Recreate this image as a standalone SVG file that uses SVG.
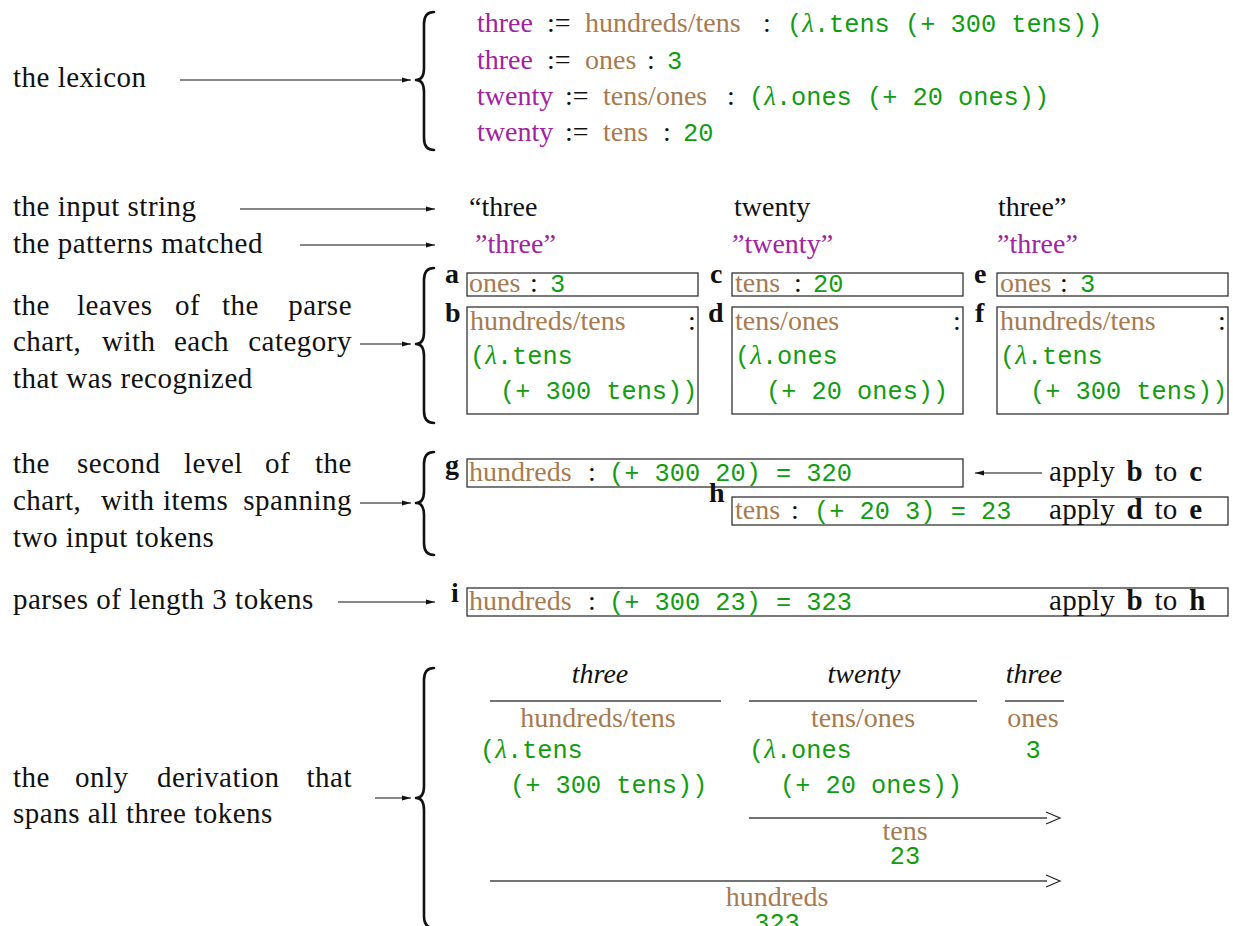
<svg xmlns="http://www.w3.org/2000/svg" width="1233" height="926" viewBox="0 0 1233 926">
<style>
text{font-family:"Liberation Serif","Times New Roman",serif;font-size:28px;fill:#111}
.L{font-size:29px;letter-spacing:0.5px}
.m{font-family:"Liberation Mono","Courier New",monospace;font-size:25.3px;fill:#119c11}
.lam{font-family:"Liberation Serif","Times New Roman",serif;font-style:italic;font-size:27px}
.p{fill:#a2229f}
.c{fill:#a77a4f}
.b{font-weight:bold}
.i{font-style:italic}
.ap{font-size:29px;word-spacing:4px;letter-spacing:0.3px}
.box{fill:none;stroke:#333;stroke-width:1.3}
.br{fill:none;stroke:#111;stroke-width:2.6;stroke-linecap:round;stroke-linejoin:round}
.ln{fill:none;stroke:#111;stroke-width:1.2}
.dl{fill:none;stroke:#444;stroke-width:1.5}
.oh{fill:none;stroke:#222;stroke-width:1.2}
</style>
<defs>
<marker id="ah" markerWidth="10" markerHeight="6" refX="9" refY="3" orient="auto" markerUnits="userSpaceOnUse">
<path d="M0,0.5 L9,3 L0,5.5 z" fill="#111"/>
</marker>
</defs>

<g id="labels">
<text x="13" y="87" class="L">the lexicon</text>
<text x="13" y="216" class="L">the input string</text>
<text x="13" y="253" class="L">the patterns matched</text>
<g id="label-leaves">
<text x="13" y="315" class="L">the</text><text x="77" y="315" class="L">leaves</text><text x="175" y="315" class="L">of</text><text x="222" y="315" class="L">the</text><text x="352" y="315" class="L" text-anchor="end">parse</text>
<text x="13" y="351" class="L">chart,</text><text x="102" y="351" class="L">with</text><text x="174" y="351" class="L">each</text><text x="352" y="351" class="L" text-anchor="end">category</text>
<text x="13" y="388" class="L">that was recognized</text>
</g>
<g id="label-second">
<text x="13" y="473" class="L">the</text><text x="77" y="473" class="L">second</text><text x="184" y="473" class="L">level</text><text x="265" y="473" class="L">of</text><text x="352" y="473" class="L" text-anchor="end">the</text>
<text x="13" y="510" class="L">chart,</text><text x="101" y="510" class="L">with</text><text x="163" y="510" class="L">items</text><text x="352" y="510" class="L" text-anchor="end">spanning</text>
<text x="13" y="547" class="L">two input tokens</text>
</g>
<text x="13" y="609" class="L">parses of length 3 tokens</text>
<g id="label-derivation">
<text x="13" y="787" class="L">the</text><text x="75" y="787" class="L">only</text><text x="157" y="787" class="L">derivation</text><text x="352" y="787" class="L" text-anchor="end">that</text>
<text x="13" y="823" class="L">spans all three tokens</text>
</g>
</g>

<g id="braces">
<path class="br" d="M434,12 Q424,12 424,24 L424,68 Q424,80 416,80 Q424,80 424,92 L424,138 Q424,150 434,150"/>
<path class="br" d="M434,268 Q424,268 424,280 L424,332 Q424,344 416,344 Q424,344 424,356 L424,411 Q424,423 434,423"/>
<path class="br" d="M434,452 Q424,452 424,464 L424,491 Q424,503 416,503 Q424,503 424,515 L424,543 Q424,555 434,555"/>
<path class="br" d="M434,668 Q424,668 424,680 L424,786 Q424,798 416,798 Q424,798 424,810 L424,916 Q424,928 434,928"/>
</g>

<g id="lexicon">
<text x="477" y="32" class="p">three</text><text x="547" y="32">:=</text><text x="585" y="32" class="c">hundreds/tens</text><text x="763" y="32">:</text><text x="787" y="32" class="m">(<tspan class="lam">λ</tspan>.tens (+ 300 tens))</text>
<text x="477" y="69" class="p">three</text><text x="547" y="69">:=</text><text x="585" y="69" class="c">ones</text><text x="647" y="69">:</text><text x="667" y="69" class="m">3</text>
<text x="477" y="105" class="p">twenty</text><text x="565" y="105">:=</text><text x="603" y="105" class="c">tens/ones</text><text x="727" y="105">:</text><text x="749" y="105" class="m">(<tspan class="lam">λ</tspan>.ones (+ 20 ones))</text>
<text x="477" y="141" class="p">twenty</text><text x="565" y="141">:=</text><text x="603" y="141" class="c">tens</text><text x="663" y="141">:</text><text x="683" y="141" class="m">20</text>
</g>

<g id="input">
<text x="469" y="216">“three</text>
<text x="734" y="216">twenty</text>
<text x="998" y="216">three”</text>
</g>

<g id="patterns">
<text x="475" y="253" class="p">”three”</text>
<text x="732" y="253" class="p">”twenty”</text>
<text x="997" y="253" class="p">”three”</text>
</g>

<g id="leaf-a">
<text x="445" y="283" class="b">a</text>
<rect class="box" x="467" y="273" width="231" height="23"/>
<text x="469" y="292" class="c">ones</text><text x="530" y="292">:</text><text x="550" y="292" class="m">3</text>
</g>
<g id="leaf-b">
<text x="445" y="322" class="b">b</text>
<rect class="box" x="467" y="307" width="231" height="107"/>
<text x="470" y="330" class="c">hundreds/tens</text><text x="688" y="330">:</text>
<text x="470" y="364" class="m">(<tspan class="lam">λ</tspan>.tens</text>
<text x="500" y="399" class="m">(+ 300 tens))</text>
</g>
<g id="leaf-c">
<text x="710" y="283" class="b">c</text>
<rect class="box" x="732" y="273" width="231" height="23"/>
<text x="735" y="292" class="c">tens</text><text x="794" y="292">:</text><text x="813" y="292" class="m">20</text>
</g>
<g id="leaf-d">
<text x="708" y="322" class="b">d</text>
<rect class="box" x="732" y="307" width="231" height="107"/>
<text x="735" y="330" class="c">tens/ones</text><text x="953" y="330">:</text>
<text x="735" y="364" class="m">(<tspan class="lam">λ</tspan>.ones</text>
<text x="766" y="399" class="m">(+ 20 ones))</text>
</g>
<g id="leaf-e">
<text x="974" y="283" class="b">e</text>
<rect class="box" x="997" y="273" width="231" height="23"/>
<text x="1000" y="292" class="c">ones</text><text x="1060" y="292">:</text><text x="1080" y="292" class="m">3</text>
</g>
<g id="leaf-f">
<text x="975" y="322" class="b">f</text>
<rect class="box" x="997" y="307" width="231" height="107"/>
<text x="1000" y="330" class="c">hundreds/tens</text><text x="1218" y="330">:</text>
<text x="1000" y="364" class="m">(<tspan class="lam">λ</tspan>.tens</text>
<text x="1030" y="399" class="m">(+ 300 tens))</text>
</g>

<g id="item-g">
<text x="445" y="474" class="b">g</text>
<rect class="box" x="467" y="459" width="496" height="28"/>
<text x="469" y="481" class="c">hundreds</text><text x="588" y="481">:</text><text x="609" y="481" class="m">(+ 300 20) = 320</text>
<text x="1049" y="481" class="ap">apply <tspan class="b">b</tspan> to <tspan class="b">c</tspan></text>
</g>
<g id="item-h">
<text x="709" y="502" class="b">h</text>
<rect class="box" x="732" y="497" width="496" height="28"/>
<text x="735" y="519" class="c">tens</text><text x="791" y="519">:</text><text x="814" y="519" class="m">(+ 20 3) = 23</text>
<text x="1049" y="519" class="ap">apply <tspan class="b">d</tspan> to <tspan class="b">e</tspan></text>
</g>
<g id="item-i">
<text x="451" y="602" class="b">i</text>
<rect class="box" x="467" y="588" width="761" height="28"/>
<text x="469" y="610" class="c">hundreds</text><text x="588" y="610">:</text><text x="609" y="610" class="m">(+ 300 23) = 323</text>
<text x="1049" y="610" class="ap">apply <tspan class="b">b</tspan> to <tspan class="b">h</tspan></text>
</g>

<g id="derivation">
<text x="600" y="683" class="i" text-anchor="middle">three</text>
<text x="864" y="683" class="i" text-anchor="middle">twenty</text>
<text x="1034" y="683" class="i" text-anchor="middle">three</text>
<line class="dl" x1="490" y1="701" x2="721" y2="701"/>
<line class="dl" x1="749" y1="701" x2="977" y2="701"/>
<line class="dl" x1="1005" y1="701" x2="1064" y2="701"/>
<text x="598" y="727" class="c" text-anchor="middle">hundreds/tens</text>
<text x="863" y="727" class="c" text-anchor="middle">tens/ones</text>
<text x="1033" y="727" class="c" text-anchor="middle">ones</text>
<text x="480" y="758" class="m">(<tspan class="lam">λ</tspan>.tens</text>
<text x="510" y="793" class="m">(+ 300 tens))</text>
<text x="749" y="758" class="m">(<tspan class="lam">λ</tspan>.ones</text>
<text x="780" y="793" class="m">(+ 20 ones))</text>
<text x="1033" y="758" class="m" text-anchor="middle">3</text>
<line class="dl" x1="749" y1="818" x2="1047" y2="818"/>
<polyline class="oh" points="1046,812 1060,818 1046,824"/>
<text x="905" y="840" class="c" text-anchor="middle">tens</text>
<text x="905" y="864" class="m" text-anchor="middle">23</text>
<line class="dl" x1="490" y1="881" x2="1047" y2="881"/>
<polyline class="oh" points="1046,875 1060,881 1046,887"/>
<text x="777" y="906" class="c" text-anchor="middle">hundreds</text>
<text x="777" y="931" class="m" text-anchor="middle">323</text>
</g>

<g id="connectors">
<line class="ln" x1="180" y1="80" x2="411" y2="80" marker-end="url(#ah)"/>
<line class="ln" x1="240" y1="209" x2="435" y2="209" marker-end="url(#ah)"/>
<line class="ln" x1="300" y1="245" x2="435" y2="245" marker-end="url(#ah)"/>
<line class="ln" x1="360" y1="344" x2="411" y2="344" marker-end="url(#ah)"/>
<line class="ln" x1="360" y1="503" x2="411" y2="503" marker-end="url(#ah)"/>
<line class="ln" x1="338" y1="602" x2="435" y2="602" marker-end="url(#ah)"/>
<line class="ln" x1="375" y1="798" x2="411" y2="798" marker-end="url(#ah)"/>
<line class="ln" x1="1042" y1="473" x2="975" y2="473" marker-end="url(#ah)"/>
</g>
</svg>
